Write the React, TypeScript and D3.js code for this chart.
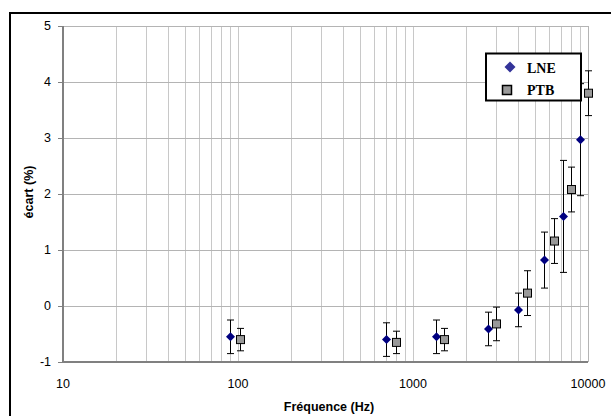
import React from 'react';
import * as d3 from 'd3';

// LNE series
const lneFreq = [90, 700, 1350, 2700, 4000, 5600, 7200, 9000];
const lneVal = [-0.55, -0.6, -0.55, -0.41, -0.07, 0.82, 1.6, 2.97];
const lneErr = [0.3, 0.3, 0.3, 0.3, 0.3, 0.5, 1.0, 1.0];

// PTB series
const ptbFreq = [102, 800, 1500, 3000, 4500, 6400, 8000, 10000];
const ptbVal = [-0.6, -0.65, -0.6, -0.32, 0.23, 1.16, 2.08, 3.8];
const ptbErr = [0.2, 0.2, 0.2, 0.3, 0.4, 0.4, 0.4, 0.4];

const yTicks = [-1, 0, 1, 2, 3, 4, 5];
const xTicks = [10, 100, 1000, 10000];

const W = 611;
const H = 416;

// square diamond (d3's symbolDiamond is too tall)
const diamondPath = (r: number) => {
  const p = d3.path();
  p.moveTo(0, -r);
  p.lineTo(r, 0);
  p.lineTo(0, r);
  p.lineTo(-r, 0);
  p.closePath();
  return p.toString();
};

export default function App() {
  const x = d3.scaleLog().domain([10, 10000]).range([63, 588]);
  const y = d3.scaleLinear().domain([-1, 5]).range([362, 26]);

  // minor grid: 20..90 in each decade
  const minor: number[] = [];
  [10, 100, 1000].forEach(d => {
    for (let k = 2; k <= 10; k++) minor.push(d * k);
  });
  const vgrid = minor.filter(v => v < 10000);

  const capW = 3.5;

  const lne = lneFreq.map((f, i) => ({ f, v: lneVal[i], e: lneErr[i] }));
  const ptb = ptbFreq.map((f, i) => ({ f, v: ptbVal[i], e: ptbErr[i] }));

  const errBar = (d: any, key: string) => {
    const cx = Math.round(x(d.f)) + 0.5;
    const y1 = y(d.v + d.e);
    const y2 = y(d.v - d.e);
    return (
      <g key={key} stroke="#000" strokeWidth={1}>
        <line x1={cx} x2={cx} y1={y1} y2={y2} />
        <line x1={cx - capW} x2={cx + capW} y1={y1} y2={y1} />
        <line x1={cx - capW} x2={cx + capW} y1={y2} y2={y2} />
      </g>
    );
  };

  return (
    <svg width={W} height={H} style={{ position: 'absolute', left: 0, top: 0, background: '#fff' }}
      fontFamily="'Liberation Sans', Arial, sans-serif">
      {/* chart frame (runs off the right and bottom) */}
      <rect x={10} y={13} width={W + 10} height={H + 10} fill="#fff" stroke="#000" strokeWidth={2} />

      {/* vertical grid */}
      {vgrid.map(v => (
        <line key={'vg' + v} x1={Math.round(x(v)) + 0.5} x2={Math.round(x(v)) + 0.5}
          y1={y(5)} y2={y(-1)} stroke="#c8c8c8" strokeWidth={1} />
      ))}
      {/* horizontal grid */}
      {yTicks.filter(t => t > -1).map(t => (
        <line key={'hg' + t} x1={x(10)} x2={x(10000)} y1={Math.round(y(t)) + 0.5} y2={Math.round(y(t)) + 0.5}
          stroke="#b4b4b4" strokeWidth={1} />
      ))}
      {/* plot borders */}
      <line x1={x(10000) + 0.5} x2={x(10000) + 0.5} y1={y(5)} y2={y(-1)} stroke="#b4b4b4" strokeWidth={1} />
      <line x1={x(10)} x2={x(10)} y1={y(5)} y2={y(-1) + 1} stroke="#808080" strokeWidth={2} />
      <line x1={x(10)} x2={x(10000)} y1={y(-1)} y2={y(-1)} stroke="#808080" strokeWidth={2} />

      {/* y ticks + labels */}
      {yTicks.map(t => (
        <g key={'yt' + t}>
          <line x1={x(10) - 5} x2={x(10)} y1={Math.round(y(t)) + 0.5} y2={Math.round(y(t)) + 0.5} stroke="#808080" />
          <text x={51} y={y(t)} dy="0.35em" textAnchor="end" fontSize={12.5} fill="#000">{t}</text>
        </g>
      ))}
      {/* x labels */}
      {xTicks.map(t => (
        <text key={'xt' + t} x={x(t)} y={388} textAnchor="middle" fontSize={12.5} fill="#000">{t}</text>
      ))}

      {/* axis titles */}
      <text x={329} y={411} textAnchor="middle" fontSize={12.5} fontWeight="bold">Fréquence (Hz)</text>
      <text transform="translate(33,192) rotate(-90)" textAnchor="middle" fontSize={12.5} fontWeight="bold">écart (%)</text>

      {/* error bars */}
      {lne.map((d, i) => errBar(d, 'le' + i))}
      {ptb.map((d, i) => errBar(d, 'pe' + i))}

      {/* markers */}
      {lne.map((d, i) => (
        <path key={'lm' + i} d={diamondPath(4.5)} transform={`translate(${Math.round(x(d.f)) + 0.5},${y(d.v)})`} fill="#000080" />
      ))}
      {ptb.map((d, i) => (
        <rect key={'pm' + i} x={Math.round(x(d.f)) + 0.5 - 4} y={y(d.v) - 4} width={8} height={8} fill="#999999" stroke="#000" strokeWidth={1} />
      ))}

      {/* legend */}
      <g>
        <rect x={486} y={53.5} width={95} height={47} fill="#fff" stroke="#000" strokeWidth={2} />
        <path d={diamondPath(5.5)} transform="translate(510,67)" fill="#333399" />
        <text x={527} y={72.5} fontFamily="'Liberation Serif', 'Times New Roman', serif" fontWeight="bold" fontSize={14}>LNE</text>
        <rect x={502.5} y={85.5} width={9} height={9} fill="#999999" stroke="#000" strokeWidth={1.5} />
        <text x={527} y={95} fontFamily="'Liberation Serif', 'Times New Roman', serif" fontWeight="bold" fontSize={14}>PTB</text>
      </g>
    </svg>
  );
}
